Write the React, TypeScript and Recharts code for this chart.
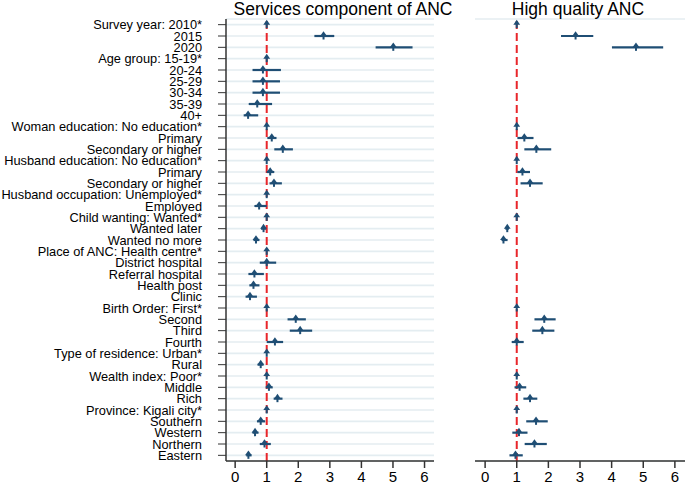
// Forest plot: adjusted odds ratios, two panels, Recharts scatter + x error bars
import React from 'react';
import {
    ScatterChart, Scatter, XAxis, YAxis, CartesianGrid, ReferenceLine, ErrorBar
} from 'recharts';

const rowLabels = [
    'Survey year: 2010*', '2015', '2020',
    'Age group: 15-19*', '20-24', '25-29', '30-34', '35-39', '40+',
    'Woman education: No education*', 'Primary', 'Secondary or higher',
    'Husband education: No education*', 'Primary', 'Secondary or higher',
    'Husband occupation: Unemployed*', 'Employed',
    'Child wanting: Wanted*', 'Wanted later', 'Wanted no more',
    'Place of ANC: Health centre*', 'District hospital', 'Referral hospital', 'Health post', 'Clinic',
    'Birth Order: First*', 'Second', 'Third', 'Fourth',
    'Type of residence: Urban*', 'Rural',
    'Wealth index: Poor*', 'Middle', 'Rich',
    'Province: Kigali city*', 'Southern', 'Western', 'Northern', 'Eastern',
];

const xTicks = [0, 1, 2, 3, 4, 5, 6];

// Services component of ANC
const servicesOR = [1, 2.80, 5.01, 1, 0.88, 0.88, 0.88, 0.70, 0.41, 1, 1.16, 1.51, 1, 1.11, 1.23, 1, 0.76, 1, 0.90, 0.66, 1, 1.00, 0.61, 0.58, 0.47, 1, 1.92, 2.06, 1.26, 1, 0.81, 1, 1.07, 1.34, 1, 0.81, 0.63, 0.93, 0.42];
const servicesLo = [1, 2.51, 4.45, 1, 0.55, 0.55, 0.55, 0.43, 0.27, 1, 1.02, 1.24, 1, 1.00, 1.09, 1, 0.61, 1, 0.82, 0.58, 1, 0.78, 0.42, 0.45, 0.33, 1, 1.66, 1.73, 1.00, 1, 0.71, 1, 0.97, 1.22, 1, 0.69, 0.55, 0.78, 0.35];
const servicesHi = [1, 3.14, 5.62, 1, 1.45, 1.42, 1.42, 1.17, 0.73, 1, 1.31, 1.83, 1, 1.24, 1.48, 1, 1.00, 1, 0.98, 0.77, 1, 1.30, 0.91, 0.77, 0.69, 1, 2.24, 2.44, 1.52, 1, 0.90, 1, 1.19, 1.50, 1, 0.95, 0.74, 1.13, 0.52];

// High quality ANC (null = not in model)
const qualityOR = [1, 2.86, 4.77, null, null, null, null, null, null, 1, 1.24, 1.62, 1, 1.18, 1.42, null, null, 1, 0.70, 0.58, null, null, null, null, null, 1, 1.87, 1.81, 1.00, null, null, 1, 1.09, 1.42, 1, 1.61, 1.07, 1.56, 0.96];
const qualityLo = [1, 2.40, 4.01, null, null, null, null, null, null, 1, 1.02, 1.24, 1, 1.02, 1.12, null, null, 1, 0.64, 0.52, null, null, null, null, null, 1, 1.56, 1.49, 0.84, null, null, 1, 0.93, 1.21, 1, 1.30, 0.86, 1.25, 0.77];
const qualityHi = [1, 3.42, 5.63, null, null, null, null, null, null, 1, 1.53, 2.09, 1, 1.42, 1.82, null, null, 1, 0.75, 0.71, null, null, null, null, null, 1, 2.23, 2.19, 1.22, null, null, 1, 1.30, 1.65, 1, 1.98, 1.34, 1.95, 1.19];

const rowTicks = rowLabels.map((_, i) => i);

const NAVY = '#1f4e74';
const FONT = '"Liberation Sans", Arial, sans-serif';

function buildData(or: (number | null)[], lo: (number | null)[], hi: (number | null)[]) {
    return or
        .map((v, i) => (v == null ? null : {
            row: i,
            or: v,
            err: [v - (lo[i] as number), (hi[i] as number) - v],
        }))
        .filter((d) => d !== null);
}

const servicesData = buildData(servicesOR, servicesLo, servicesHi);
const qualityData = buildData(qualityOR, qualityLo, qualityHi);

const Marker = (props: any) => {
    const { cx, cy } = props;
    if (cx == null || cy == null) return null;
    return (
        <g>
            <line x1={cx} x2={cx} y1={cy - 1} y2={cy + 3.5} stroke={NAVY} strokeWidth={2} />
            <path d={`M${cx - 3.4},${cy} L${cx},${cy - 4.8} L${cx + 3.4},${cy} Z`} fill={NAVY} />
        </g>
    );
};

// plain svg text so long labels never wrap
const RowLabel = (props: any) => {
    const { x, y, payload } = props;
    return (
        <text x={x} y={y} dy={4.5} textAnchor="end" fontSize={12.8} fill="#000" fontFamily={FONT}>
            {rowLabels[payload.value]}
        </text>
    );
};

function Panel({ data, width, leftAxis, domain }: { data: any[]; width: number; leftAxis: boolean; domain: [number, number] }) {
    return (
        <ScatterChart width={width} height={486} margin={{ top: 19, right: leftAxis ? 6 : 0, left: 0, bottom: 0 }}>
            <CartesianGrid vertical={false} stroke="#e4edf1" strokeWidth={1.6} />
            <XAxis
                type="number"
                dataKey="or"
                domain={domain}
                ticks={xTicks}
                allowDataOverflow
                height={25}
                tickSize={7}
                tickMargin={3}
                stroke="#333"
                strokeWidth={1.5}
                tick={{ fontSize: 15, fill: '#000', fontFamily: FONT }}
            />
            <YAxis
                type="number"
                dataKey="row"
                domain={[-0.5, 38.5]}
                reversed
                ticks={rowTicks}
                interval={0}
                width={leftAxis ? 226 : 35}
                tickSize={leftAxis ? 8 : 0}
                tickMargin={leftAxis ? 16 : 0}
                axisLine={leftAxis ? { stroke: '#333', strokeWidth: 1.5 } : false}
                tickLine={leftAxis ? { stroke: '#333' } : false}
                tick={leftAxis ? <RowLabel /> : false}
            />
            <ReferenceLine x={1} stroke="#e8262b" strokeWidth={2} strokeDasharray="8 4" />
            <Scatter data={data} shape={<Marker />} isAnimationActive={false}>
                <ErrorBar dataKey="err" direction="x" width={0} stroke={NAVY} strokeWidth={2.2} />
            </Scatter>
        </ScatterChart>
    );
}

export default function App() {
    return (
        <div style={{ position: 'absolute', left: 0, top: 0, width: 685, height: 486, background: '#fff' }}>
            <div style={{ position: 'absolute', left: 0, top: 0 }}>
                <Panel data={servicesData} width={440} leftAxis domain={[-0.29, 6.3]} />
            </div>
            <div style={{ position: 'absolute', left: 440, top: 0 }}>
                <Panel data={qualityData} width={245} leftAxis={false} domain={[-0.32, 6.32]} />
            </div>
            <svg width={685} height={20} style={{ position: 'absolute', left: 0, top: 0 }}>
                <text x={343} y={15} textAnchor="middle" fontSize={17.5} fontFamily={FONT} fill="#000">
                    Services component of ANC
                </text>
                <text x={578} y={15} textAnchor="middle" fontSize={17.5} fontFamily={FONT} fill="#000">
                    High quality ANC
                </text>
            </svg>
        </div>
    );
}
